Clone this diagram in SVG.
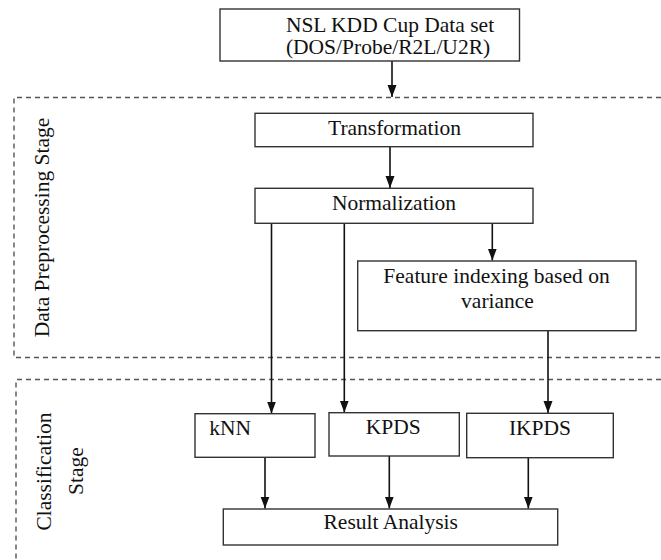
<svg xmlns="http://www.w3.org/2000/svg" width="661" height="560" viewBox="0 0 661 560">
<style>
  .box { fill: #fff; stroke: #333; stroke-width: 1.4; }
  text { font-family: 'Liberation Serif', 'Times New Roman', Times, serif; font-size: 21.5px; fill: #111; text-anchor: middle; }
  .stage { fill: none; stroke: #555; stroke-width: 1.4; stroke-dasharray: 5 4; }
  .edge { fill: none; stroke: #111; stroke-width: 1.6; marker-end: url(#arr); }
</style>
<defs>
  <marker id="arr" viewBox="0 0 12 10" refX="12" refY="5" markerWidth="12" markerHeight="10" markerUnits="userSpaceOnUse" orient="auto">
    <path d="M0,0.5 L12,5 L0,9.5 z" fill="#111"/>
  </marker>
</defs>
<rect width="661" height="560" fill="#fff"/>

<g id="stage-preprocessing">
  <path class="stage" d="M661,97.5 H14 V357.5 H661"/>
  <text transform="translate(49,227.5) rotate(-90)" font-size="22.5">Data Preprocessing Stage</text>
</g>
<g id="stage-classification">
  <path class="stage" d="M661,379.5 H16 V560"/>
  <text transform="translate(51,471.5) rotate(-90)" font-size="23.5">Classification</text>
  <text transform="translate(83,471) rotate(-90)" font-size="22.5">Stage</text>
</g>

<g id="connectors">
  <path class="edge" d="M392,61 V97"/>
  <path class="edge" d="M390,146.7 V188"/>
  <path class="edge" d="M492.3,223.3 V260.5"/>
  <path class="edge" d="M271.5,223.3 V413.5"/>
  <path class="edge" d="M344.3,223.3 V412.5"/>
  <path class="edge" d="M548,330.7 V413"/>
  <path class="edge" d="M265,457.3 V508.5"/>
  <path class="edge" d="M389.3,456 V508.5"/>
  <path class="edge" d="M528.3,457.7 V508.5"/>
</g>

<g id="dataset">
  <rect class="box" x="220" y="9" width="299.5" height="52"/>
  <text x="390" y="32">NSL KDD Cup Data set</text>
  <text x="388" y="54">(DOS/Probe/R2L/U2R)</text>
</g>
<g id="transformation">
  <rect class="box" x="255" y="113.3" width="278" height="33.4"/>
  <text x="394.5" y="135">Transformation</text>
</g>
<g id="normalization">
  <rect class="box" x="255" y="188.3" width="278" height="35"/>
  <text x="394" y="210">Normalization</text>
</g>
<g id="feature-indexing">
  <rect class="box" x="357.7" y="261" width="278.3" height="69.7"/>
  <text x="496.5" y="283.3">Feature indexing based on</text>
  <text x="497.5" y="308.3">variance</text>
</g>
<g id="knn">
  <rect class="box" x="195" y="413.7" width="120" height="43.6"/>
  <text x="209.3" y="435" style="text-anchor:start">kNN</text>
</g>
<g id="kpds">
  <rect class="box" x="329" y="412.7" width="130.3" height="43.3"/>
  <text x="393.3" y="434.3">KPDS</text>
</g>
<g id="ikpds">
  <rect class="box" x="466.7" y="413.3" width="146.6" height="44.4"/>
  <text x="540" y="435">IKPDS</text>
</g>
<g id="result-analysis">
  <rect class="box" x="223.3" y="509" width="334.4" height="36"/>
  <text x="390.7" y="529.3">Result Analysis</text>
</g>
</svg>
